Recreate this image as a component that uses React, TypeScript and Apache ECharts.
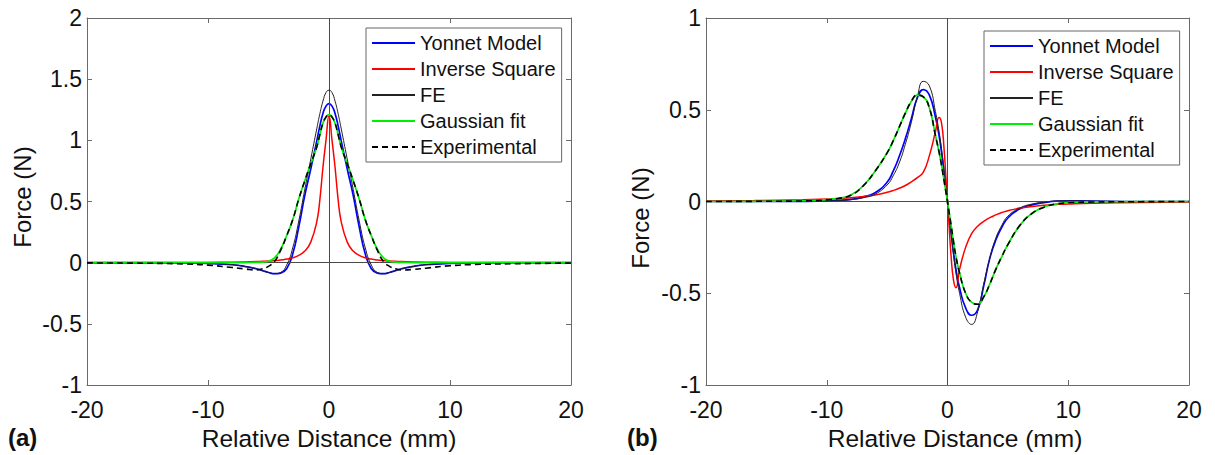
import React, { useEffect, useRef } from "react";
import * as echarts from "echarts";

// ---------- Panel (a) data ----------
const xA = [-20, -16, -12, -10, -8, -7, -6, -5.5, -5, -4.5, -4, -3.5, -3, -2.5, -2, -1.5, -1, -0.75, -0.5, -0.25, 0,
  0.25, 0.5, 0.75, 1, 1.5, 2, 2.5, 3, 3.5, 4, 4.5, 5, 5.5, 6, 7, 8, 10, 12, 16, 20];
const yonnetA = [0, 0, -0.002, -0.006, -0.017, -0.03, -0.05, -0.065, -0.08, -0.09, -0.085, -0.05, 0.07, 0.29, 0.55, 0.77, 1.0, 1.12, 1.22, 1.28, 1.3,
  1.28, 1.22, 1.12, 1.0, 0.77, 0.55, 0.29, 0.07, -0.05, -0.085, -0.09, -0.08, -0.065, -0.05, -0.03, -0.017, -0.006, -0.002, 0, 0];
const inverseA = [0, 0, 0.001, 0.002, 0.004, 0.006, 0.009, 0.011, 0.013, 0.017, 0.022, 0.03, 0.04, 0.06, 0.095, 0.17, 0.34, 0.52, 0.78, 1.0, 1.2,
  1.0, 0.78, 0.52, 0.34, 0.17, 0.095, 0.06, 0.04, 0.03, 0.022, 0.017, 0.013, 0.011, 0.009, 0.006, 0.004, 0.002, 0.001, 0, 0];
const feA = [0, 0, -0.002, -0.006, -0.016, -0.03, -0.05, -0.065, -0.08, -0.09, -0.08, -0.02, 0.12, 0.34, 0.6, 0.85, 1.1, 1.22, 1.32, 1.39, 1.41,
  1.39, 1.32, 1.22, 1.1, 0.85, 0.6, 0.34, 0.12, -0.02, -0.08, -0.09, -0.08, -0.065, -0.05, -0.03, -0.016, -0.006, -0.002, 0, 0];
const gaussA = [0, 0, 0, 0, 0, 0.001, 0.002, 0.005, 0.012, 0.04, 0.11, 0.22, 0.35, 0.52, 0.67, 0.81, 0.95, 1.05, 1.14, 1.19, 1.21,
  1.19, 1.14, 1.05, 0.95, 0.81, 0.67, 0.52, 0.35, 0.22, 0.11, 0.04, 0.012, 0.005, 0.002, 0.001, 0, 0, 0, 0, 0];
const expA = [-0.002, -0.004, -0.01, -0.02, -0.04, -0.05, -0.06, -0.05, -0.03, 0.01, 0.1, 0.22, 0.35, 0.52, 0.67, 0.81, 0.95, 1.05, 1.14, 1.19, 1.21,
  1.19, 1.14, 1.05, 0.95, 0.81, 0.67, 0.52, 0.35, 0.22, 0.1, 0.01, -0.03, -0.05, -0.06, -0.055, -0.045, -0.025, -0.015, -0.008, -0.003];

// ---------- Panel (b) data ----------
const xB = [-20, -16, -12, -10, -9, -8, -7, -6, -5, -4.5, -4, -3.5, -3, -2.5, -2, -1.5, -1, -0.7, -0.5, -0.3, -0.1, 0,
  0.1, 0.3, 0.5, 0.7, 1, 1.5, 2, 2.5, 3, 3.5, 4, 4.5, 5, 6, 7, 8, 9, 10, 12, 16, 20];
const yonnetB = [0, 0, 0.001, 0.003, 0.006, 0.012, 0.024, 0.048, 0.105, 0.165, 0.245, 0.34, 0.45, 0.565, 0.61, 0.58, 0.46, 0.36, 0.27, 0.17, 0.06, 0,
  -0.06, -0.17, -0.28, -0.37, -0.47, -0.58, -0.62, -0.59, -0.46, -0.31, -0.21, -0.14, -0.09, -0.04, -0.018, -0.006, 0.002, 0.004, 0.002, 0, 0];
const inverseB = [0.003, 0.005, 0.009, 0.013, 0.016, 0.02, 0.027, 0.036, 0.05, 0.06, 0.072, 0.087, 0.107, 0.13, 0.16, 0.25, 0.38, 0.458, 0.43, 0.3, 0.1, 0,
  -0.1, -0.3, -0.43, -0.47, -0.37, -0.25, -0.175, -0.135, -0.108, -0.088, -0.073, -0.06, -0.05, -0.036, -0.027, -0.02, -0.016, -0.013, -0.009, -0.005, -0.003];
const feB = [0, 0, 0.001, 0.003, 0.005, 0.01, 0.02, 0.04, 0.09, 0.14, 0.21, 0.31, 0.43, 0.57, 0.655, 0.63, 0.49, 0.38, 0.29, 0.18, 0.06, 0,
  -0.06, -0.18, -0.29, -0.39, -0.5, -0.63, -0.67, -0.6, -0.45, -0.31, -0.2, -0.13, -0.08, -0.035, -0.014, -0.004, 0.003, 0.004, 0.002, 0, 0];
const gaussB = [0, 0.001, 0.004, 0.01, 0.018, 0.035, 0.085, 0.165, 0.265, 0.33, 0.405, 0.48, 0.545, 0.58, 0.57, 0.51, 0.36, 0.27, 0.2, 0.12, 0.04, 0,
  -0.045, -0.13, -0.22, -0.3, -0.39, -0.5, -0.55, -0.56, -0.52, -0.45, -0.37, -0.3, -0.235, -0.13, -0.065, -0.03, -0.013, -0.006, -0.002, 0, 0];
const expB = [0, 0.001, 0.003, 0.009, 0.017, 0.034, 0.084, 0.165, 0.265, 0.33, 0.405, 0.48, 0.545, 0.58, 0.57, 0.51, 0.36, 0.27, 0.2, 0.12, 0.04, 0,
  -0.045, -0.13, -0.22, -0.3, -0.39, -0.5, -0.55, -0.56, -0.52, -0.45, -0.37, -0.3, -0.235, -0.13, -0.065, -0.031, -0.014, -0.007, -0.003, -0.001, 0];

const seriesNames = ["Yonnet Model", "Inverse Square", "FE", "Gaussian fit", "Experimental"];
const xTicks = { min: -20, max: 20, step: 10 };
const yTicksA = { min: -1, max: 2, step: 0.5 };
const yTicksB = { min: -1, max: 1, step: 0.5 };

const FONT = "'Liberation Sans', Arial, Helvetica, sans-serif";
const AXIS = "#6a6a6a";

function pairs(xs: number[], ys: number[]) {
  return xs.map((x, i) => [x, ys[i]]);
}

export default function App() {
  const ref = useRef<HTMLDivElement>(null);
  useEffect(() => {
    const chart = echarts.init(ref.current!, null, { renderer: "svg" });

    const mkX = (gridIndex: number, pos: "bottom" | "top") => ({
      type: "value",
      gridIndex,
      position: pos,
      min: xTicks.min,
      max: xTicks.max,
      interval: xTicks.step,
      axisLine: { show: true, onZero: false, lineStyle: { color: AXIS, width: 1 } },
      axisTick: { show: true, inside: true, length: 5, lineStyle: { color: AXIS } },
      axisLabel: { show: pos === "bottom", fontSize: 23, color: "#111", fontFamily: FONT, margin: 13 },
      splitLine: { show: false },
    });
    const mkY = (gridIndex: number, pos: "left" | "right", t: { min: number; max: number; step: number }) => ({
      type: "value",
      gridIndex,
      position: pos,
      min: t.min,
      max: t.max,
      interval: t.step,
      axisLine: { show: true, onZero: false, lineStyle: { color: AXIS, width: 1 } },
      axisTick: { show: true, inside: true, length: 5, lineStyle: { color: AXIS } },
      axisLabel: { show: pos === "left", fontSize: 23, color: "#111", fontFamily: FONT, margin: 5 },
      splitLine: { show: false },
    });

    const styles = [
      { color: "#0000ff", width: 1.7, type: "solid" },
      { color: "#ff0000", width: 1.5, type: "solid" },
      { color: "#222222", width: 1, type: "solid" },
      { color: "#00ee00", width: 1.7, type: "solid" },
      { color: "#000000", width: 1.6, type: [6, 4] },
    ];

    const mkSeries = (panel: number, xs: number[], ys: number[][]) =>
      ys.map((y, i) => ({
        name: seriesNames[i],
        type: "line",
        xAxisIndex: panel * 2,
        yAxisIndex: panel * 2,
        data: pairs(xs, y),
        showSymbol: false,
        symbol: "none",
        smooth: 0.5,
        color: styles[i].color,
        lineStyle: { color: styles[i].color, width: styles[i].width, type: styles[i].type },
        emphasis: { disabled: true },
        z: 3 + i,
        markLine:
          i === 0
            ? {
                silent: true,
                symbol: ["none", "none"],
                label: { show: false },
                lineStyle: { color: "#4a4a4a", width: 1, type: "solid" },
                data: [{ xAxis: 0 }, { yAxis: 0 }],
              }
            : undefined,
      }));

    const mkLegend = (left: number, top: number) => ({
      data: seriesNames,
      orient: "vertical",
      left,
      top,
      itemWidth: 43,
      itemHeight: 14,
      itemGap: 6,
      padding: [5, 6, 5, 5],
      borderColor: "#666",
      borderWidth: 1,
      backgroundColor: "#fff",
      selectedMode: false,
      itemStyle: { opacity: 0 },
      textStyle: { fontSize: 20, color: "#111", fontFamily: FONT },
    });

    const txt = (text: string, x: number, y: number, opts: any = {}) => ({
      type: "text",
      x,
      y,
      rotation: opts.rotation || 0,
      style: {
        text,
        fontSize: opts.fontSize || 24,
        fontFamily: FONT,
        fontWeight: opts.bold ? "bold" : "normal",
        fill: "#111",
        textAlign: opts.align || "center",
        textVerticalAlign: "middle",
      },
    });

    chart.setOption({
      animation: false,
      backgroundColor: "#fff",
      grid: [
        { left: 87, top: 18, width: 484, height: 367 },
        { left: 706, top: 18, width: 483, height: 367 },
      ],
      xAxis: [mkX(0, "bottom"), mkX(0, "top"), mkX(1, "bottom"), mkX(1, "top")],
      yAxis: [
        mkY(0, "left", yTicksA),
        mkY(0, "right", yTicksA),
        mkY(1, "left", yTicksB),
        mkY(1, "right", yTicksB),
      ],
      legend: [mkLegend(366, 28), mkLegend(984, 31)],
      series: [
        ...mkSeries(0, xA, [yonnetA, inverseA, feA, gaussA, expA]),
        ...mkSeries(1, xB, [yonnetB, inverseB, feB, gaussB, expB]),
      ],
      graphic: [
        txt("Force (N)", 22, 197, { rotation: Math.PI / 2 }),
        txt("Force (N)", 640, 218, { rotation: Math.PI / 2 }),
        txt("Relative Distance (mm)", 329, 438, { fontSize: 24.5 }),
        txt("Relative Distance (mm)", 955, 438, { fontSize: 24.5 }),
        txt("(a)", 8, 437, { bold: true, align: "left" }),
        txt("(b)", 627, 437, { bold: true, align: "left" }),
      ],
    });
    return () => chart.dispose();
  }, []);
  return <div ref={ref} style={{ position: "absolute", left: 0, top: 0, width: 1215, height: 455 }} />;
}
